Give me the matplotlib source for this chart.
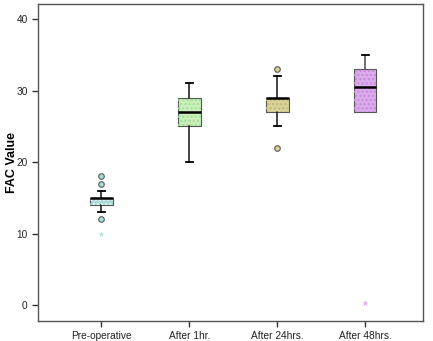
import matplotlib
matplotlib.use("Agg")
import matplotlib.pyplot as plt
from matplotlib.patches import Rectangle

plt.rcParams['font.family'] = ['Liberation Sans', 'DejaVu Sans']
plt.rcParams['hatch.linewidth'] = 1.0

groups = ['Pre-operative', 'After 1hr.', 'After 24hrs.', 'After 48hrs.']
q1 = [14, 25, 27, 27]
med = [15, 27, 29, 30.5]
q3 = [15, 29, 29, 33]
whislo = [13, 20, 25, 27]
whishi = [16, 31, 32, 35]
outliers = [[18, 17, 12], [], [33, 22], []]
extremes = [[10], [], [], [0.3]]

face_colors = ['#a9dcd8', '#c9f0b9', '#d9d39b', '#dcaaee']
dot_colors = ['#e8f6f5', '#a2dc9a', '#c4ba72', '#c28cd2']
star_colors = ['#b5e3e0', '#c9f0b9', '#d9d39b', '#d6b3e6']

fig = plt.figure(figsize=(4.33, 3.41), dpi=100)
ax = fig.add_axes([0.088, 0.059, 0.889, 0.929])

pos = [1, 2, 3, 4]
stats = []
for i in range(4):
    stats.append(dict(q1=q1[i], med=med[i], q3=q3[i], whislo=whislo[i],
                      whishi=whishi[i], fliers=[], label=groups[i]))

width = 0.26
bp = ax.bxp(stats, positions=pos, widths=width, patch_artist=True,
            showfliers=False,
            medianprops=dict(color='black', linewidth=1.8, zorder=3),
            whiskerprops=dict(color='#222222', linewidth=1.2),
            capprops=dict(color='black', linewidth=1.3),
            boxprops=dict(edgecolor='#555555', linewidth=0.8))
for b, fc in zip(bp['boxes'], face_colors):
    b.set_facecolor(fc)
# caps shorter than boxes; no cap when whisker has zero length
for k, c in enumerate(bp['caps']):
    x0, x1 = c.get_xdata()
    mid = (x0 + x1) / 2
    c.set_xdata([mid - 0.04, mid + 0.04])
    i = k // 2
    if k % 2 == 0 and whislo[i] == q1[i]:
        c.set_visible(False)
    if k % 2 == 1 and whishi[i] == q3[i]:
        c.set_visible(False)
bp['whiskers'][7].set_color('#555555')

# dotted fill pattern
for i in range(4):
    ax.add_patch(Rectangle((pos[i] - width / 2, q1[i]), width, q3[i] - q1[i],
                           fill=False, hatch='....', edgecolor=dot_colors[i],
                           linewidth=0, zorder=2.2))

for i in range(4):
    if outliers[i]:
        ax.scatter([pos[i]] * len(outliers[i]), outliers[i], s=16,
                   facecolor=face_colors[i], edgecolor='#666666',
                   linewidth=0.9, zorder=4)
    if extremes[i]:
        ax.scatter([pos[i]] * len(extremes[i]), extremes[i], s=24,
                   marker='*', color=star_colors[i], linewidth=0, zorder=4)

ax.set_xlim(0.28, 4.66)
ax.set_ylim(-2.2, 42.1)
ax.set_yticks([0, 10, 20, 30, 40])
ax.set_xticks(pos)
ax.set_xticklabels(groups)
ax.tick_params(axis='both', labelsize=7.3, colors='#333333', length=4,
               width=1)
for lbl in ax.get_xticklabels() + ax.get_yticklabels():
    lbl.set_color('#222222')
ax.set_ylabel('FAC Value', fontsize=9, fontweight='bold',
              va='center', ha='center')
ax.yaxis.set_label_coords(-0.068, 0.5)
for s in ax.spines.values():
    s.set_color('#555555')
    s.set_linewidth(1.0)

fig.savefig('out.png', dpi=100)
